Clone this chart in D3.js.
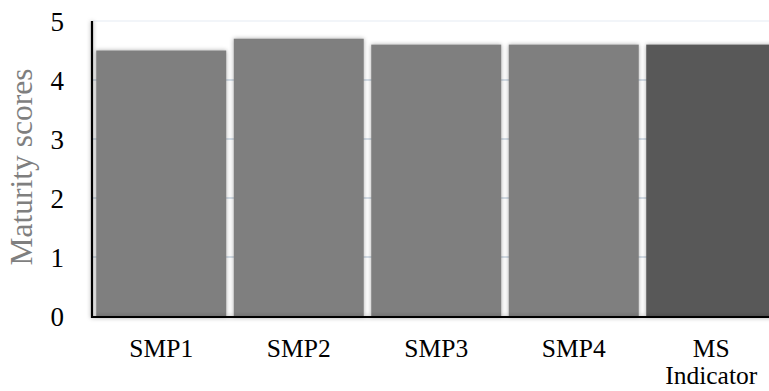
<!DOCTYPE html>
<html>
<head>
<meta charset="utf-8">
<script src="https://cdn.jsdelivr.net/npm/d3@7"></script>
<style>
  html, body { margin: 0; padding: 0; background: #fff; }
  svg { display: block; }
  svg text { font-family: "Liberation Serif", "Times New Roman", Times, serif; }
</style>
</head>
<body>
<svg id="chart" width="769" height="391"></svg>
<script>
const categories = ["SMP1", "SMP2", "SMP3", "SMP4", "MS Indicator"];
const values = [4.5, 4.7, 4.6, 4.6, 4.6];
const barColors = ["#7f7f7f", "#7f7f7f", "#7f7f7f", "#7f7f7f", "#585858"];
const yTicks = [0, 1, 2, 3, 4, 5];
const yTitle = "Maturity scores";

(function () {
const svg = d3.select("#chart");
const W = 769;
const plotLeft = 92.5, plotBottom = 316, plotTop = 21;
const serif = '"Liberation Serif", "Times New Roman", Times, serif';

const defs = svg.append("defs");
const f = defs.append("filter").attr("id", "glow")
  .attr("x", "-10%").attr("y", "-10%").attr("width", "120%").attr("height", "120%");
f.append("feDropShadow").attr("dx", 0).attr("dy", 0).attr("stdDeviation", 2.2)
  .attr("flood-color", "#000").attr("flood-opacity", 0.34);

const x = d3.scaleBand().domain(categories).range([plotLeft, plotLeft + 5 * 137.5])
  .paddingInner(0.0545).paddingOuter(0.0273);
const y = d3.scaleLinear().domain([0, 5]).range([plotBottom, plotTop]);

// gridlines
svg.append("g").selectAll("line").data(yTicks.filter(d => d > 0)).join("line")
  .attr("x1", plotLeft).attr("x2", W)
  .attr("y1", d => y(d)).attr("y2", d => y(d))
  .attr("stroke", d => d === 5 ? "#eef2f7" : "#c9d5e1").attr("stroke-width", 1.5);

// bars
svg.append("g").selectAll("rect").data(categories).join("rect")
  .attr("x", d => x(d)).attr("width", x.bandwidth())
  .attr("y", (d, i) => y(values[i]))
  .attr("height", (d, i) => plotBottom - y(values[i]))
  .attr("fill", (d, i) => barColors[i])
  .attr("filter", "url(#glow)");

// axes lines
const axG = svg.append("g").attr("filter", "url(#glow)");
axG.append("line").attr("x1", plotLeft - 0.5).attr("x2", W + 5).attr("y1", plotBottom + 1).attr("y2", plotBottom + 1)
  .attr("stroke", "#000").attr("stroke-width", 2.2);
axG.append("line").attr("x1", plotLeft - 0.5).attr("x2", plotLeft - 0.5).attr("y1", y(5)).attr("y2", plotBottom + 2)
  .attr("stroke", "#000").attr("stroke-width", 2.2);

// y tick labels
const yAxis = d3.axisLeft(y).tickValues(yTicks).tickFormat(d3.format("d")).tickSize(0).tickPadding(0);
const yg = svg.append("g").attr("transform", "translate(64,0)").call(yAxis)
  .attr("font-family", null).attr("font-size", null);
yg.select(".domain").remove();
yg.selectAll("text").style("font-family", serif)
  .style("font-size", "27px").attr("fill", "#000").attr("dy", "0.34em");

// x labels
const xl = svg.append("g").selectAll("text").data(categories).join("text")
  .attr("x", d => x(d) + x.bandwidth() / 2).attr("y", 357)
  .attr("text-anchor", "middle")
  .style("font-family", serif)
  .style("font-size", "25.5px").attr("fill", "#000");
xl.each(function (d) {
  const words = d.split(" ");
  const t = d3.select(this);
  words.forEach((w, i) => {
    t.append("tspan").attr("x", x(d) + x.bandwidth() / 2).attr("dy", i === 0 ? 0 : 27).text(w);
  });
});

// y title
svg.append("text").attr("transform", "translate(32,167) rotate(-90)")
  .attr("text-anchor", "middle")
  .style("font-family", serif)
  .style("font-size", "31.5px").attr("fill", "#7f7f7f")
  .text(yTitle);
})();
</script>
</body>
</html>
